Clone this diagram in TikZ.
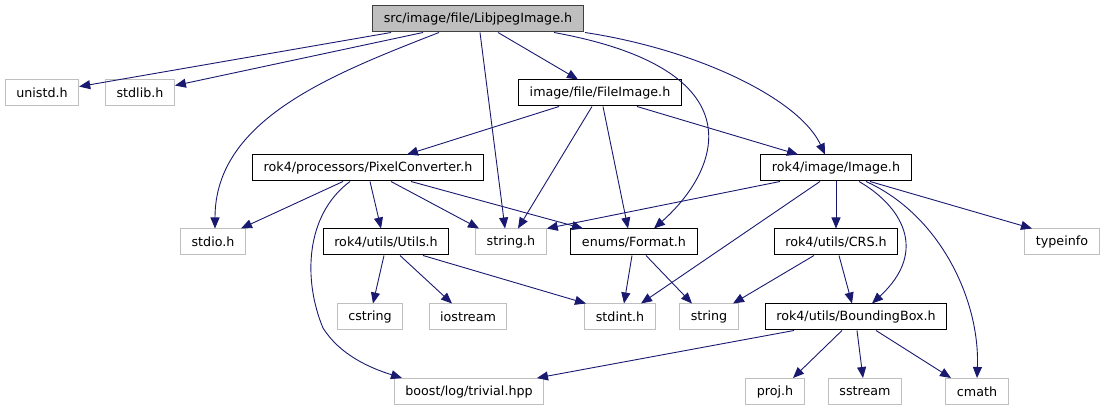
\documentclass[tikz,border=0pt]{standalone}
\usepackage{fontspec}
\usepackage{tikz}
\usepackage{xcolor}
\setmainfont{DejaVu Sans}
\usetikzlibrary{arrows.meta}
\definecolor{edgeblue}{HTML}{191970}
\definecolor{extgray}{HTML}{BFBFBF}
\definecolor{rootgray}{HTML}{BFBFBF}

\begin{document}
\begin{tikzpicture}[x=1pt, y=-1pt,
  box/.style={rectangle, draw, line width=1pt, minimum height=26pt, inner xsep=11pt, inner ysep=2pt, font=\fontsize{12.7}{15}\selectfont},
  doc/.style={box, draw=black},
  ext/.style={box, draw=extgray},
  arrow/.style={-{Triangle[length=11pt, width=9pt]}, edgeblue, line width=0.9pt}]

\useasboundingbox (0,0) rectangle (1106,411);

% headers
\node[doc, fill=rootgray, draw=black!75] (root) at (478,19) {src/image/file/LibjpegImage.h};
\node[ext] (unistd) at (42,93) {unistd.h};
\node[ext] (stdlib) at (140,93) {stdlib.h};
\node[doc] (fileimg) at (600,93) {image/file/FileImage.h};
\node[doc] (pixconv) at (368,168) {rok4/processors/PixelConverter.h};
\node[doc] (image) at (836,168) {rok4/image/Image.h};
\node[ext] (stdio) at (213,242) {stdio.h};
\node[doc] (utils) at (386,242) {rok4/utils/Utils.h};
\node[ext] (strh) at (511,242) {string.h};
\node[doc] (format) at (634,242) {enums/Format.h};
\node[doc] (crs) at (836,242) {rok4/utils/CRS.h};
\node[ext] (typeinfo) at (1062,242) {typeinfo};
\node[ext] (cstring) at (370,317) {cstring};
\node[ext] (iostream) at (468,317) {iostream};
\node[ext] (stdint) at (620,317) {stdint.h};
\node[ext] (string) at (709,317) {string};
\node[doc] (bbox) at (856,317) {rok4/utils/BoundingBox.h};
\node[ext] (boost) at (469,391.5) {boost/log/trivial.hpp};
\node[ext] (proj) at (775,391.5) {proj.h};
\node[ext] (sstream) at (865,391.5) {sstream};
\node[ext] (cmath) at (977,391.5) {cmath};

% root
\draw[arrow] ([xshift=-87]root.south) -- (unistd);
\draw[arrow] ([xshift=-55]root.south) -- (stdlib);
\draw[arrow] ([xshift=-39]root.south) .. controls (330,75) and (215,120) .. ([xshift=2]stdio.north);
\draw[arrow] ([xshift=2]root.south) -- ([xshift=-6]strh.north);
\draw[arrow] ([xshift=20]root.south) -- ([xshift=-22]fileimg.north);
\draw[arrow] ([xshift=76]root.south) .. controls (760,70) and (720,170) .. ([xshift=20]format.north);
\draw[arrow] ([xshift=107]root.south) .. controls (700,50) and (800,100) .. ([xshift=-11]image.north);

% FileImage.h
\draw[arrow] ([xshift=-41]fileimg.south) -- ([xshift=39]pixconv.north);
\draw[arrow] ([xshift=-8]fileimg.south) -- ([xshift=7]strh.north);
\draw[arrow] ([xshift=3]fileimg.south) -- ([xshift=-6]format.north);
\draw[arrow] ([xshift=37]fileimg.south) -- ([xshift=-38]image.north);

% PixelConverter.h
\draw[arrow] ([xshift=-25]pixconv.south) -- ([xshift=28]stdio.north);
\draw[arrow] ([xshift=-18]pixconv.south) .. controls (305,215) and (303,280) .. (323,328) .. controls (340,355) and (370,368) .. ([xshift=-67]boost.north);
\draw[arrow] ([xshift=2]pixconv.south) -- ([xshift=-5]utils.north);
\draw[arrow] ([xshift=23]pixconv.south) -- ([xshift=-32]strh.north);
\draw[arrow] ([xshift=43]pixconv.south) -- ([xshift=-51]format.north);

% Image.h
\draw[arrow] ([xshift=-56]image.south) -- (strh.north east);
\draw[arrow] ([xshift=-16]image.south) -- ([xshift=21]stdint.north);
\draw[arrow] (image) -- (crs);
\draw[arrow] ([xshift=23]image.south) .. controls (900,205) and (930,250) .. ([xshift=16]bbox.north);
\draw[arrow] ([xshift=34]image.south) -- ([xshift=-30]typeinfo.north);
\draw[arrow] ([xshift=30]image.south) .. controls (940,215) and (980,300) .. (cmath.north);

% Utils.h, Format.h, CRS.h
\draw[arrow] ([xshift=-2]utils.south) -- ([xshift=3]cstring.north);
\draw[arrow] ([xshift=14]utils.south) -- ([xshift=-16]iostream.north);
\draw[arrow] ([xshift=37]utils.south) -- ([xshift=-34]stdint.north);
\draw[arrow] ([xshift=-2]format.south) -- ([xshift=4]stdint.north);
\draw[arrow] ([xshift=12]format.south) -- ([xshift=-17]string.north);
\draw[arrow] ([xshift=-22]crs.south) -- ([xshift=24]string.north);
\draw[arrow] ([xshift=3]crs.south) -- ([xshift=-4]bbox.north);

% BoundingBox.h
\draw[arrow] ([xshift=-62]bbox.south) -- ([xshift=68]boost.north);
\draw[arrow] ([xshift=-14]bbox.south) -- ([xshift=18]proj.north);
\draw[arrow] ([xshift=1]bbox.south) -- ([xshift=-2]sstream.north);
\draw[arrow] ([xshift=20]bbox.south) -- ([xshift=-26]cmath.north);
\end{tikzpicture}
\end{document}
